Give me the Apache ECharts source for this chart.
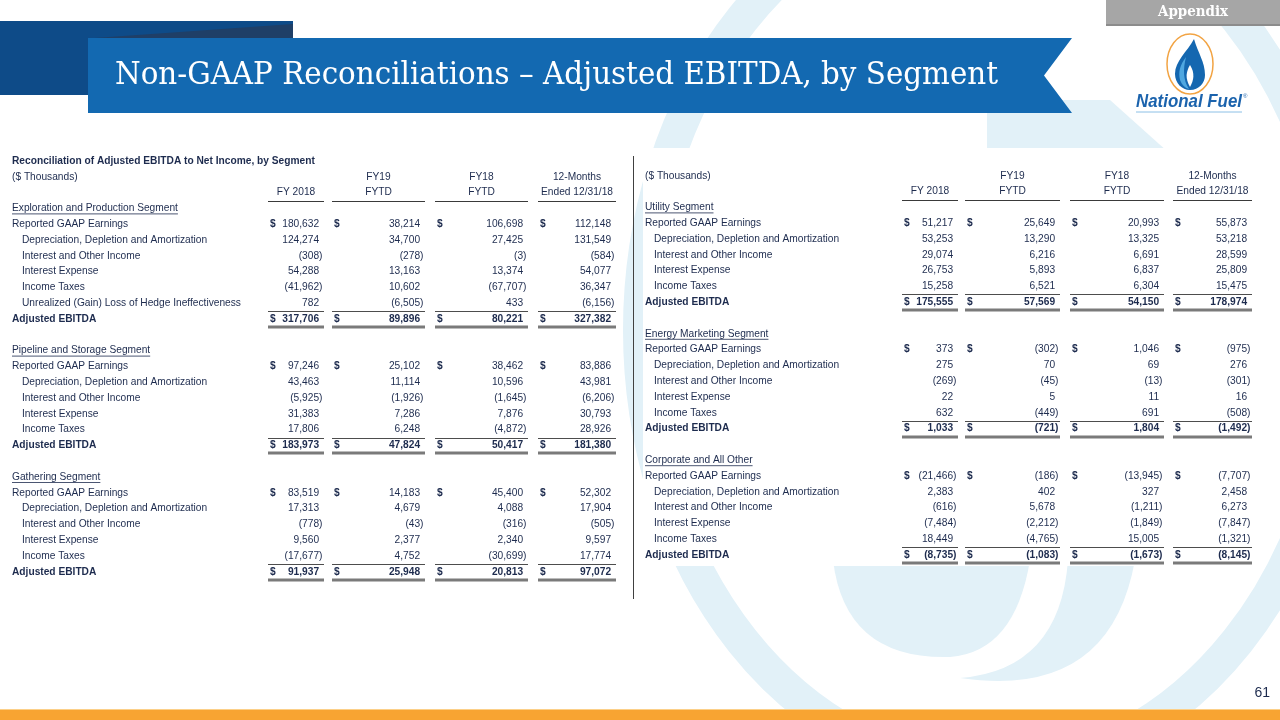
<!DOCTYPE html>
<html>
<head>
<meta charset="utf-8">
<title>Non-GAAP Reconciliations – Adjusted EBITDA, by Segment</title>
<script src="https://cdn.jsdelivr.net/npm/echarts@6/dist/echarts.min.js"></script>
<style>
    html, body { margin: 0; padding: 0; background: #fff; }
    #slide { width: 1280px; height: 720px; }
</style>
</head>
<body>
<div id="slide"></div>
<script>
const TITLE = 'Non-GAAP Reconciliations – Adjusted EBITDA, by Segment';
const TABLE_TITLE = 'Reconciliation of Adjusted EBITDA to Net Income, by Segment';
const UNITS = '($ Thousands)';
const HEAD_TOP = ['', 'FY19', 'FY18', '12-Months'];
const HEAD_BOTTOM = ['FY 2018', 'FYTD', 'FYTD', 'Ended 12/31/18'];
const ITEM_LABELS = [
    'Reported GAAP Earnings',
    'Depreciation, Depletion and Amortization',
    'Interest and Other Income',
    'Interest Expense',
    'Income Taxes'
];
const HEDGE_LABEL = 'Unrealized (Gain) Loss of Hedge Ineffectiveness';
const TOTAL_LABEL = 'Adjusted EBITDA';

// each row: FY 2018, FY19 FYTD, FY18 FYTD, 12 months ended 12/31/18
const EXPLORATION_PRODUCTION = [
    [180632, 38214, 106698, 112148],
    [124274, 34700, 27425, 131549],
    [-308, -278, -3, -584],
    [54288, 13163, 13374, 54077],
    [-41962, 10602, -67707, 36347],
    [782, -6505, 433, -6156],
    [317706, 89896, 80221, 327382]
];
const PIPELINE_STORAGE = [
    [97246, 25102, 38462, 83886],
    [43463, 11114, 10596, 43981],
    [-5925, -1926, -1645, -6206],
    [31383, 7286, 7876, 30793],
    [17806, 6248, -4872, 28926],
    [183973, 47824, 50417, 181380]
];
const GATHERING = [
    [83519, 14183, 45400, 52302],
    [17313, 4679, 4088, 17904],
    [-778, -43, -316, -505],
    [9560, 2377, 2340, 9597],
    [-17677, 4752, -30699, 17774],
    [91937, 25948, 20813, 97072]
];
const UTILITY = [
    [51217, 25649, 20993, 55873],
    [53253, 13290, 13325, 53218],
    [29074, 6216, 6691, 28599],
    [26753, 5893, 6837, 25809],
    [15258, 6521, 6304, 15475],
    [175555, 57569, 54150, 178974]
];
const ENERGY_MARKETING = [
    [373, -302, 1046, -975],
    [275, 70, 69, 276],
    [-269, -45, -13, -301],
    [22, 5, 11, 16],
    [632, -449, 691, -508],
    [1033, -721, 1804, -1492]
];
const CORPORATE_OTHER = [
    [-21466, -186, -13945, -7707],
    [2383, 402, 327, 2458],
    [-616, 5678, -1211, 6273],
    [-7484, -2212, -1849, -7847],
    [18449, -4765, 15005, -1321],
    [-8735, -1083, -1673, -8145]
];

const LEFT_SEGMENTS = [
    { name: 'Exploration and Production Segment', labels: ITEM_LABELS.concat(HEDGE_LABEL), rows: EXPLORATION_PRODUCTION },
    { name: 'Pipeline and Storage Segment', labels: ITEM_LABELS, rows: PIPELINE_STORAGE },
    { name: 'Gathering Segment', labels: ITEM_LABELS, rows: GATHERING }
];
const RIGHT_SEGMENTS = [
    { name: 'Utility Segment', labels: ITEM_LABELS, rows: UTILITY },
    { name: 'Energy Marketing Segment', labels: ITEM_LABELS, rows: ENERGY_MARKETING },
    { name: 'Corporate and All Other', labels: ITEM_LABELS, rows: CORPORATE_OTHER }
];

// layout
const TEXT_COLOR = '#1d2b4e';
const FONT_SIZE = 10.2;
const ROW_H = 15.8;
const LEFT_COLS = [[268, 324], [332, 425], [435, 528], [538, 616]];
const RIGHT_COLS = [[902, 958], [965, 1060], [1070, 1164], [1173, 1252]];

const measureCtx = document.createElement('canvas').getContext('2d');
function textWidth(text, font) {
    measureCtx.font = font;
    return measureCtx.measureText(text).width;
}

function fontOf(bold) {
    return (bold ? 'bold ' : '') + FONT_SIZE + 'px "Liberation Sans", Arial, sans-serif';
}

function formatValue(v) {
    const s = Math.abs(v).toLocaleString('en-US');
    return v < 0 ? '(' + s + ')' : s;
}

function buildTable(segments, cols, labelX, indentX, title) {
    const cells = [];
    const rules = [];
    if (title) {
        cells.push({ row: 0, x: labelX, text: title, bold: true, align: 'left' });
    }
    cells.push({ row: 1, x: labelX, text: UNITS, align: 'left' });
    cols.forEach(([a, b], c) => {
        const mid = (a + b) / 2;
        if (HEAD_TOP[c]) {
            cells.push({ row: 1, x: mid, text: HEAD_TOP[c], align: 'center' });
        }
        cells.push({ row: 2, x: mid, text: HEAD_BOTTOM[c], align: 'center' });
        rules.push({ row: 2.5, x1: a, x2: b, kind: 'head' });
    });

    let row = 3;
    segments.forEach((seg) => {
        cells.push({ row, x: labelX, text: seg.name, align: 'left', underline: true });
        row += 1;
        seg.rows.forEach((values, i) => {
            const total = i === seg.rows.length - 1;
            cells.push({
                row,
                x: (i === 0 || total) ? labelX : indentX,
                text: total ? TOTAL_LABEL : seg.labels[i],
                bold: total,
                align: 'left'
            });
            values.forEach((v, c) => {
                const [a, b] = cols[c];
                if (i === 0 || total) {
                    cells.push({ row, x: a + 2, text: '$', bold: true, align: 'left' });
                }
                cells.push({ row, x: b - 1.5, text: formatValue(v), bold: total, align: 'right', number: true, negative: v < 0 });
                if (total) {
                    rules.push({ row: row - 0.5, x1: a, x2: b, kind: 'sub' });
                    rules.push({ row: row + 0.5, x1: a, x2: b, kind: 'total' });
                }
            });
            row += 1;
        });
        row += 1;
    });
    return { cells, rules, rowCount: row - 1 };
}

function cellRenderer(cells) {
    return function (params, api) {
        const cell = cells[params.dataIndex];
        const pt = api.coord([api.value(0), api.value(1)]);
        const font = fontOf(cell.bold);
        let x = pt[0];
        if (cell.number && !cell.negative) {
            x -= textWidth(')', font);
        }
        const text = {
            type: 'text',
            x: x,
            y: pt[1],
            style: { text: cell.text, font: font, fill: TEXT_COLOR, align: cell.align, verticalAlign: 'middle' }
        };
        if (!cell.underline) {
            return text;
        }
        const w = textWidth(cell.text, font);
        return {
            type: 'group',
            children: [
                text,
                {
                    type: 'line',
                    shape: { x1: pt[0], y1: pt[1] + 5.5, x2: pt[0] + w, y2: pt[1] + 5.5 },
                    style: { stroke: TEXT_COLOR, lineWidth: 0.8 }
                }
            ]
        };
    };
}

const RULE_STYLES = {
    head: { stroke: '#3a3a3a', lineWidth: 1.2 },
    sub: { stroke: '#4d4d4d', lineWidth: 1 },
    total: { stroke: '#7a7a7a', lineWidth: 3 }
};

function ruleRenderer(rules) {
    return function (params, api) {
        const rule = rules[params.dataIndex];
        const p1 = api.coord([api.value(0), api.value(1)]);
        const p2 = api.coord([api.value(2), api.value(1)]);
        const y = Math.round(p1[1]) + (rule.kind === 'total' ? 0 : 0.5);
        return {
            type: 'line',
            shape: { x1: p1[0], y1: y, x2: p2[0], y2: y },
            style: RULE_STYLES[rule.kind]
        };
    };
}

const leftTable = buildTable(LEFT_SEGMENTS, LEFT_COLS, 12, 22, TABLE_TITLE);
const rightTable = buildTable(RIGHT_SEGMENTS, RIGHT_COLS, 645, 654, null);

function tableSeries(table, index) {
    return [
        {
            type: 'custom',
            xAxisIndex: index,
            yAxisIndex: index,
            z: 10,
            silent: true,
            clip: false,
            renderItem: ruleRenderer(table.rules),
            data: table.rules.map((r) => [r.x1, r.row, r.x2])
        },
        {
            type: 'custom',
            xAxisIndex: index,
            yAxisIndex: index,
            z: 11,
            silent: true,
            clip: false,
            renderItem: cellRenderer(table.cells),
            data: table.cells.map((c) => [c.x, c.row])
        }
    ];
}

function scaledText(text, font, targetWidth) {
    return targetWidth / textWidth(text, font);
}

const TITLE_FONT = '32px "DejaVu Serif", serif';
const APPENDIX_FONT = 'bold 14px "DejaVu Serif Condensed", "DejaVu Serif", serif';
const LOGO_FONT = 'italic bold 19px "Liberation Sans", Arial, sans-serif';

function ellipsePath(cx, cy, rx, ry) {
    return `M ${cx - rx} ${cy} A ${rx} ${ry} 0 1 0 ${cx + rx} ${cy} A ${rx} ${ry} 0 1 0 ${cx - rx} ${cy} Z`;
}

const WATERMARK = '#e2f1f8';

const decorations = [
    // faint logo watermark
    { type: 'path', shape: { pathData: ellipsePath(990, 330, 350, 440) }, style: { fill: null, stroke: WATERMARK, lineWidth: 34 } },
    { type: 'path', shape: { pathData: 'M 833 560 Q 845 660 950 657 Q 1015 652 1030 560 Z' }, style: { fill: WATERMARK } },
    { type: 'path', shape: { pathData: 'M 1068 560 Q 1060 670 960 678 Q 1110 700 1135 560 Z' }, style: { fill: WATERMARK } },
    { type: 'polygon', shape: { points: [[987, 100], [1110, 100], [1168, 152], [987, 152]] }, style: { fill: WATERMARK } },
    { type: 'rect', shape: { x: 643, y: 148, width: 609, height: 418 }, style: { fill: '#ffffff' } },

    // header banner
    { type: 'rect', shape: { x: 0, y: 21, width: 293, height: 74 }, style: { fill: '#0e4b88' } },
    { type: 'polygon', shape: { points: [[95, 38], [293, 24], [293, 38]] }, style: { fill: '#1f3f67' } },
    { type: 'polygon', shape: { points: [[88, 38], [1072, 38], [1044, 75.5], [1072, 113], [88, 113]] }, style: { fill: '#1369b1' } },
    {
        type: 'text', x: 115, y: 76,
        scaleX: scaledText(TITLE, TITLE_FONT, 883),
        style: { text: TITLE, font: TITLE_FONT, fill: '#ffffff', align: 'left', verticalAlign: 'middle' }
    },

    // appendix tab
    { type: 'rect', shape: { x: 1106, y: 0, width: 174, height: 25 }, style: { fill: '#a6a6a6' } },
    { type: 'line', shape: { x1: 1106, y1: 25, x2: 1280, y2: 25 }, style: { stroke: '#8c8c8c', lineWidth: 2 } },
    {
        type: 'text', x: 1193, y: 12.5,
        scaleX: scaledText('Appendix', APPENDIX_FONT, 70),
        style: { text: 'Appendix', font: APPENDIX_FONT, fill: '#ffffff', align: 'center', verticalAlign: 'middle' }
    },

    // logo
    { type: 'path', shape: { pathData: ellipsePath(1190, 64, 23, 30) }, style: { fill: '#ffffff', stroke: '#f2a444', lineWidth: 1.5 } },
    { type: 'path', shape: { pathData: 'M1194 39 C1187 52 1175 61 1175 74 C1175 83 1182 90 1190 90 C1199 90 1205 83 1205 75 C1205 62 1198 53 1194 39 Z' }, style: { fill: '#1467b0' } },
    { type: 'path', shape: { pathData: 'M1186 57 C1180 65 1178 72 1180 80 C1182 85 1185 88 1189 89 C1183 80 1183 69 1186 57 Z' }, style: { fill: '#4fa7e0' } },
    { type: 'path', shape: { pathData: 'M1190 65 C1186 72 1185 78 1190 87 C1194 80 1195 73 1190 65 Z' }, style: { fill: '#ffffff' } },
    {
        type: 'text', x: 1136, y: 102,
        scaleX: scaledText('National Fuel', LOGO_FONT, 106),
        style: { text: 'National Fuel', font: LOGO_FONT, fill: '#1b63ad', align: 'left', verticalAlign: 'middle' }
    },
    { type: 'text', x: 1243, y: 96, style: { text: '®', font: '6px sans-serif', fill: '#1b63ad', align: 'left', verticalAlign: 'middle' } },
    { type: 'line', shape: { x1: 1136, y1: 112, x2: 1242, y2: 112 }, style: { stroke: '#8cc0e6', lineWidth: 1 } },

    // divider, page number, footer bar
    { type: 'line', shape: { x1: 633.5, y1: 156, x2: 633.5, y2: 599 }, style: { stroke: '#404040', lineWidth: 1 } },
    { type: 'text', x: 1270, y: 693, style: { text: '61', font: '14px "Liberation Sans", Arial, sans-serif', fill: TEXT_COLOR, align: 'right', verticalAlign: 'middle' } },
    { type: 'rect', shape: { x: 0, y: 709, width: 1280, height: 1 }, style: { fill: '#fcd089' } },
    { type: 'rect', shape: { x: 0, y: 710, width: 1280, height: 10 }, style: { fill: '#f8a432' } }
];

const chart = echarts.init(document.getElementById('slide'));

chart.setOption({
    animation: false,
    backgroundColor: '#ffffff',
    grid: [
        { left: 0, right: 0, top: 161 - ROW_H / 2, height: (leftTable.rowCount + 1) * ROW_H },
        { left: 0, right: 0, top: 160 - ROW_H / 2, height: (rightTable.rowCount + 1) * ROW_H }
    ],
    xAxis: [
        { gridIndex: 0, type: 'value', min: 0, max: 1280, show: false },
        { gridIndex: 1, type: 'value', min: 0, max: 1280, show: false }
    ],
    yAxis: [
        { gridIndex: 0, type: 'value', min: -0.5, max: leftTable.rowCount + 0.5, inverse: true, show: false },
        { gridIndex: 1, type: 'value', min: -0.5, max: rightTable.rowCount + 0.5, inverse: true, show: false }
    ],
    series: [
        {
            type: 'custom',
            coordinateSystem: 'none',
            z: 1,
            silent: true,
            data: [[0]],
            renderItem: () => ({ type: 'group', children: decorations })
        }
    ].concat(tableSeries(leftTable, 0), tableSeries(rightTable, 1))
});

window.addEventListener('resize', () => chart.resize());
</script>
</body>
</html>
